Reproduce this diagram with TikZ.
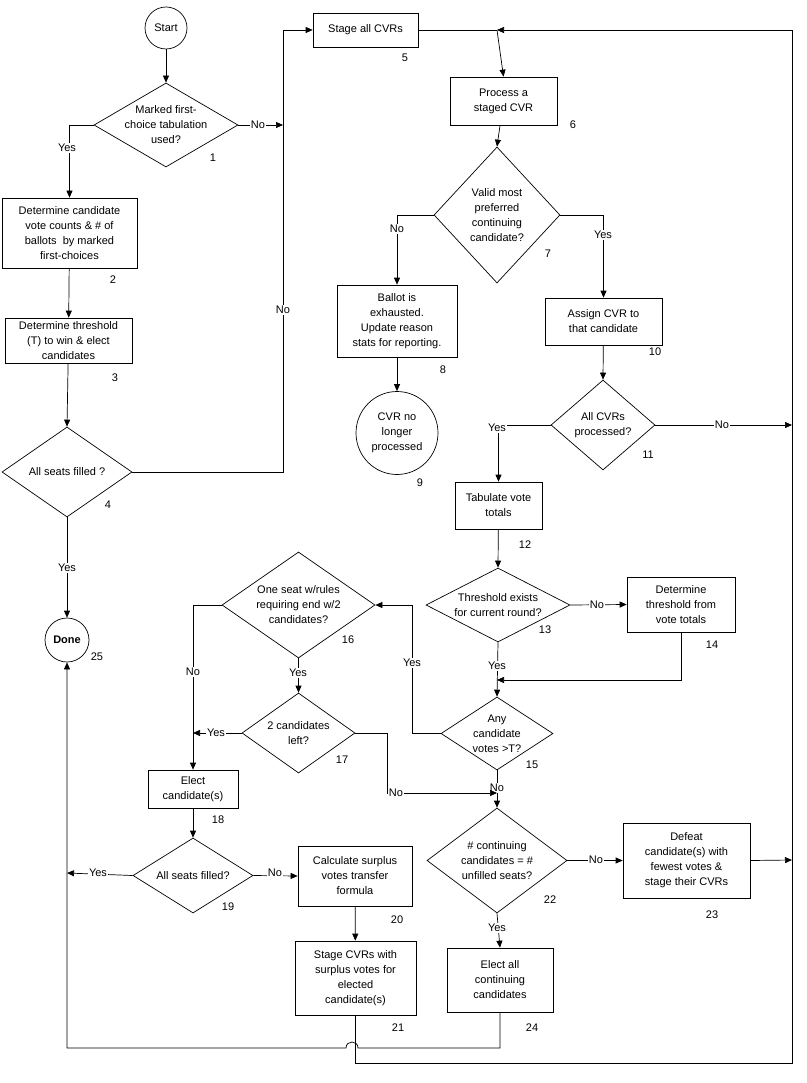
\documentclass[tikz,border=0pt]{standalone}
\usepackage{fontspec}
\setmainfont{Liberation Sans}
\usetikzlibrary{shapes.geometric,arrows.meta}
\begin{document}
\begin{tikzpicture}[x=1pt,y=-1pt,
  every node/.style={font=\fontsize{11}{15}\selectfont},
  ln/.style={line width=0.7pt},
  ar/.style={ln,-{Triangle[length=7pt,width=6pt]}},
  box/.style={draw,line width=0.7pt,rectangle,inner sep=0pt},
  dia/.style={draw,line width=0.7pt,diamond,inner sep=0pt},
  txt/.style={align=center,inner sep=0pt},
  lbl/.style={fill=white,inner sep=1pt},
  num/.style={inner sep=0pt}]
\useasboundingbox (0,0) rectangle (806,1083);
\fill[white] (0,0) rectangle (806,1083);
% nodes
\node[draw,ln,ellipse,minimum width=42,minimum height=42,inner sep=0] (start) at (166,28) {Start};
\node[dia,minimum width=144,minimum height=84] (d1) at (166,125) {};
\node[txt] at (166,125) {Marked first-\\choice tabulation\\used?};
\node[num] at (213,158) {1};
\node[box,minimum width=135,minimum height=70,align=center] (b2) at (69.5,233) {Determine candidate\\vote counts \& \# of\\ballots\ \ by marked\\first-choices};
\node[num] at (113,280) {2};
\node[box,minimum width=127,minimum height=45,align=center] (b3) at (68.5,340.5) {Determine threshold\\(T) to win \& elect\\candidates};
\node[num] at (115,378) {3};
\node[dia,minimum width=130,minimum height=90] (d4) at (67,472) {};
\node[txt] at (67,472) {All seats filled ?};
\node[num] at (108,505) {4};
\node[draw,ln,ellipse,minimum width=44,minimum height=44,inner sep=0,font=\fontsize{11}{15}\selectfont\bfseries] (done) at (67,640) {Done};
\node[num] at (97,657) {25};
\node[box,minimum width=105,minimum height=34] (b5) at (365.5,30) {Stage all CVRs};
\node[num] at (405,58) {5};
\node[box,minimum width=107,minimum height=48,align=center] (b6) at (503.5,101) {Process a\\staged CVR};
\node[num] at (573,125) {6};
\node[dia,minimum width=126,minimum height=136] (d7) at (497,215) {};
\node[txt] at (497,215) {Valid most\\preferred\\continuing\\candidate?};
\node[num] at (548,254) {7};
\node[box,minimum width=120,minimum height=72,align=center] (b8) at (397,321) {Ballot is\\exhausted.\\Update reason\\stats for reporting.};
\node[num] at (443,370) {8};
\node[draw,ln,ellipse,minimum width=82,minimum height=83,inner sep=0,align=center] (c9) at (397,433) {CVR no\\longer\\processed};
\node[num] at (420,483) {9};
\node[box,minimum width=117,minimum height=47,align=center] (b10) at (603.5,321.5) {Assign CVR to\\that candidate};
\node[num] at (655,352) {10};
\node[dia,minimum width=104,minimum height=90] (d11) at (603,425) {};
\node[txt] at (603,425) {All CVRs\\processed?};
\node[num] at (648,455) {11};
\node[box,minimum width=87,minimum height=47,align=center] (b12) at (498.5,505.5) {Tabulate vote\\totals};
\node[num] at (525,545) {12};
\node[dia,minimum width=144,minimum height=74] (d13) at (498,605) {};
\node[txt] at (498,605) {Threshold exists\\for current round?};
\node[num] at (545,630) {13};
\node[box,minimum width=108,minimum height=55,align=center] (b14) at (681,604.5) {Determine\\threshold from\\vote totals};
\node[num] at (712,645) {14};
\node[dia,minimum width=112,minimum height=73] (d15) at (497,733.5) {};
\node[txt] at (497,733.5) {Any\\candidate\\votes >T?};
\node[num] at (532,765) {15};
\node[dia,minimum width=153,minimum height=106] (d16) at (298.5,605) {};
\node[txt] at (298.5,605) {One seat w/rules\\requiring end w/2\\candidates?};
\node[num] at (348,640) {16};
\node[dia,minimum width=113,minimum height=80] (d17) at (298.5,733) {};
\node[txt] at (298.5,733) {2 candidates\\left?};
\node[num] at (342,760) {17};
\node[box,minimum width=90,minimum height=38,align=center] (b18) at (193,789) {Elect\\candidate(s)};
\node[num] at (218,820) {18};
\node[dia,minimum width=120,minimum height=75] (d19) at (193,875.5) {};
\node[txt] at (193,875.5) {All seats filled?};
\node[num] at (228,907) {19};
\node[box,minimum width=114,minimum height=60,align=center] (b20) at (355,876) {Calculate surplus\\votes transfer\\formula};
\node[num] at (397,920) {20};
\node[box,minimum width=121,minimum height=74,align=center] (b21) at (355.5,978) {Stage CVRs with\\surplus votes for\\elected\\candidate(s)};
\node[num] at (398,1028) {21};
\node[dia,minimum width=140,minimum height=105] (d22) at (497,860.5) {};
\node[txt] at (497,860.5) {\# continuing\\candidates = \#\\unfilled seats?};
\node[num] at (550,900) {22};
\node[box,minimum width=127,minimum height=75,align=center] (b23) at (686.5,860.5) {Defeat\\candidate(s) with\\fewest votes \&\\stage their CVRs};
\node[num] at (712,915) {23};
\node[box,minimum width=106,minimum height=64,align=center] (b24) at (500,980) {Elect all\\continuing\\candidates};
\node[num] at (532,1028) {24};
% coordinates
\coordinate (j1) at (283,125);
\coordinate (k5) at (283,30);
\coordinate (j6) at (497,30);
\coordinate (tr) at (792,30);
\coordinate (br) at (792,1063);
\coordinate (r11) at (792,425);
\coordinate (r23) at (792,860);
\coordinate (j15) at (497,680);
\coordinate (y15) at (412,605);
\coordinate (l17) at (193,733);
\coordinate (n17) at (387,793);
\coordinate (j22) at (497,793);
\coordinate (l19) at (67,873);
\coordinate (h1) at (358,1048);
\coordinate (h2) at (346,1048);
\coordinate (bl) at (67,1048);
% connectors
\draw[ar] (start) -- (d1.north);
\draw[ar] (d1.west) -| (b2.north);
\node[lbl] at (67,148) {Yes};
\draw[ar] (d1.east) -- (j1);
\node[lbl] at (258,125) {No};
\draw[ar] (b2) -- (b3);
\draw[ar] (b3) -- (d4.north);
\draw[ar] (d4.east) -| (k5) -- (b5.west);
\node[lbl] at (283,310) {No};
\draw[ar] (d4.south) -- (done.north);
\node[lbl] at (67,568) {Yes};
\draw[ln] (b5.east) -- (j6);
\draw[ar] (j6) -- (b6.north);
\draw[ar] (b21.south) |- (br) -- (tr) -- (j6);
\draw[ar] (b24.south) |- (h1) .. controls (358,1040) and (346,1040) .. (h2) -- (bl) -- (done.south);
\draw[ar] (b6) -- (d7.north);
\draw[ar] (d7.west) -| (b8.north);
\node[lbl] at (397,229) {No};
\draw[ar] (d7.east) -| (b10.north);
\node[lbl] at (603,235) {Yes};
\draw[ar] (b8) -- (c9);
\draw[ar] (b10) -- (d11.north);
\draw[ar] (d11.east) -- (r11);
\node[lbl] at (722,425) {No};
\draw[ar] (d11.west) -| (b12.north);
\node[lbl] at (497,428) {Yes};
\draw[ar] (b12) -- (d13.north);
\draw[ar] (d13.east) -- (b14.west);
\node[lbl] at (597,605) {No};
\draw[ar] (b14.south) |- (j15);
\draw[ar] (d13.south) -- (d15.north);
\node[lbl] at (497,666) {Yes};
\draw[ar] (d15.west) -| (y15) -- (d16.east);
\node[lbl] at (412,663) {Yes};
\draw[ar] (d15.south) -- (d22.north);
\node[lbl] at (497,788) {No};
\draw[ar] (d16.west) -| (b18.north);
\node[lbl] at (193,672) {No};
\draw[ar] (d16.south) -- (d17.north);
\node[lbl] at (298,673) {Yes};
\draw[ar] (d17.west) -- (l17);
\node[lbl] at (216,733) {Yes};
\draw[ar] (d17.east) -| (n17) -- (j22);
\node[lbl] at (396,793) {No};
\draw[ar] (b18) -- (d19.north);
\draw[ar] (d19.west) -- (l19);
\node[lbl] at (98,873) {Yes};
\draw[ar] (d19.east) -- (b20.west);
\node[lbl] at (275,873) {No};
\draw[ar] (b20) -- (b21);
\draw[ar] (d22.east) -- (b23.west);
\node[lbl] at (596,860) {No};
\draw[ar] (b23.east) -- (r23);
\draw[ar] (d22.south) -- (b24.north);
\node[lbl] at (497,928) {Yes};
\end{tikzpicture}
\end{document}
